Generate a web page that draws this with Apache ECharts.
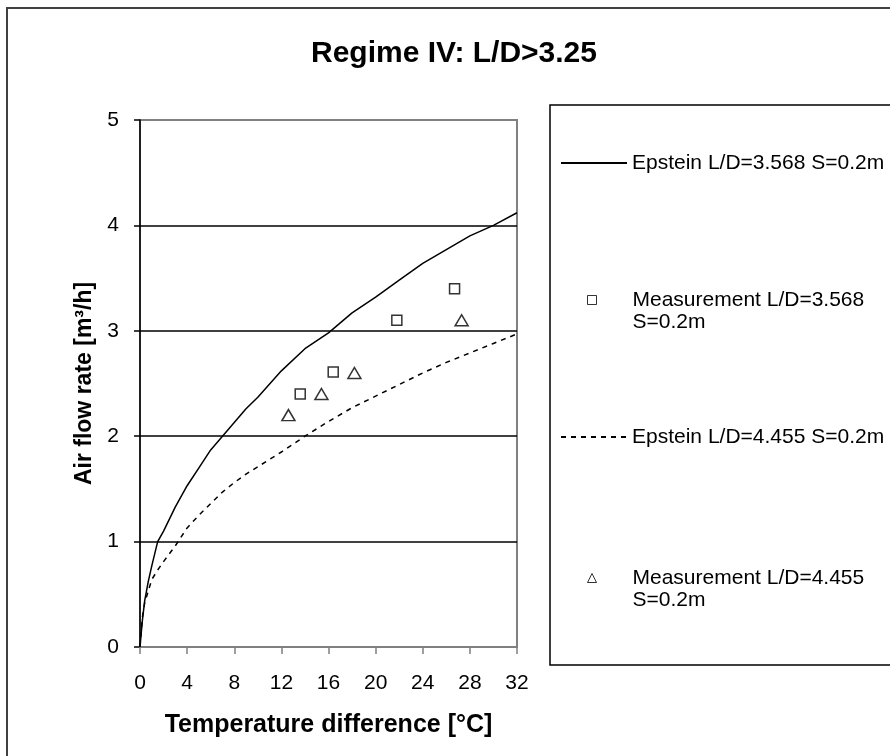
<!DOCTYPE html>
<html>
<head>
<meta charset="utf-8">
<script src="https://cdn.jsdelivr.net/npm/echarts@6/dist/echarts.min.js"></script>
<style>
  html, body { margin: 0; padding: 0; background: #fff; }
  #chart { width: 890px; height: 756px; }
</style>
</head>
<body>
<div id="chart"></div>
<script>
// temperature steps used for both Epstein curves
const tempSteps = [0, 0.2, 0.4, 0.7, 1, 1.5, 2, 3, 4, 5, 6, 7, 8, 9, 10, 12, 14, 16, 18, 20, 22, 24, 26, 28, 30, 32];
const epstein3568 = [0, 0.25, 0.44, 0.62, 0.77, 1.0, 1.1, 1.33, 1.53, 1.7, 1.87, 2.0, 2.13, 2.26, 2.37, 2.62, 2.83, 2.98, 3.17, 3.32, 3.48, 3.64, 3.77, 3.9, 4.0, 4.12];
const epstein4455 = [0, 0.28, 0.42, 0.53, 0.64, 0.73, 0.81, 0.96, 1.13, 1.25, 1.36, 1.47, 1.56, 1.64, 1.71, 1.85, 2.0, 2.14, 2.27, 2.38, 2.49, 2.6, 2.7, 2.79, 2.88, 2.97];

const meas3568Temp = [13.6, 16.4, 21.8, 26.7];
const meas3568Flow = [2.4, 2.61, 3.1, 3.4];
const meas4455Temp = [12.6, 15.4, 18.2, 27.3];
const meas4455Flow = [2.2, 2.4, 2.6, 3.1];

const seriesNames = [
  'Epstein L/D=3.568 S=0.2m',
  'Measurement L/D=3.568\nS=0.2m',
  'Epstein L/D=4.455 S=0.2m',
  'Measurement L/D=4.455\nS=0.2m'
];

const pairs = (xs, ys) => xs.map((x, i) => [x, ys[i]]);

const chart = echarts.init(document.getElementById('chart'));
const font = 'Liberation Sans, Arial, sans-serif';

const legendText = { fontFamily: font, fontSize: 21, color: '#000', lineHeight: 22 };

// line entries: only the line, hide the dot echarts puts in the middle
const lineLegend = {
  left: 560,
  orient: 'vertical',
  padding: 0,
  itemWidth: 66,
  itemHeight: 8,
  selectedMode: false,
  textStyle: legendText,
  itemStyle: { color: 'rgba(0,0,0,0)', borderWidth: 0 }
};

// marker entries: small square icon, text pushed to the same column
const markLegend = {
  left: 587,
  orient: 'vertical',
  padding: 0,
  itemWidth: 9,
  itemHeight: 9,
  selectedMode: false,
  textStyle: Object.assign({ padding: [0, 0, 0, 31] }, legendText),
  itemStyle: { borderWidth: 1 },
  formatter: n => ' \n' + n
};

const option = {
  animation: false,
  backgroundColor: '#fff',
  title: {
    text: 'Regime IV: L/D>3.25',
    left: 306,
    top: 34,
    textStyle: { fontFamily: font, fontSize: 30, fontWeight: 'bold', color: '#000' }
  },
  graphic: [
    {
      type: 'rect',
      shape: { x: 7, y: 8, width: 900, height: 800 },
      style: { fill: 'none', stroke: '#404040', lineWidth: 2 },
      z: -1
    },
    {
      type: 'rect',
      shape: { x: 550, y: 105, width: 400, height: 560 },
      style: { fill: 'none', stroke: '#000', lineWidth: 1.5 },
      z: -1
    }
  ],
  legend: [
    Object.assign({}, lineLegend, { top: 152, data: [seriesNames[0]] }),
    Object.assign({}, markLegend, { top: 267, data: [seriesNames[1]] }),
    Object.assign({}, lineLegend, { top: 426, data: [seriesNames[2]] }),
    Object.assign({}, markLegend, { top: 545, data: [seriesNames[3]] })
  ],
  grid: {
    left: 140,
    right: 373,
    top: 120,
    bottom: 109,
    show: true,
    borderColor: '#808080',
    borderWidth: 2
  },
  xAxis: {
    type: 'value',
    min: 0,
    max: 32,
    interval: 4,
    name: 'Temperature difference [°C]',
    nameLocation: 'middle',
    nameGap: 66,
    nameTextStyle: { fontFamily: font, fontSize: 25, fontWeight: 'bold', color: '#000' },
    axisLine: { show: true, lineStyle: { color: '#808080', width: 2 } },
    axisTick: { show: true, length: 7, lineStyle: { color: '#808080', width: 1.5 } },
    axisLabel: { fontFamily: font, fontSize: 21, color: '#000', margin: 26 },
    splitLine: { show: false }
  },
  yAxis: {
    type: 'value',
    min: 0,
    max: 5,
    interval: 1,
    name: 'Air flow rate [m³/h]',
    nameLocation: 'middle',
    nameGap: 44,
    nameTextStyle: { fontFamily: font, fontSize: 23, fontWeight: 'bold', color: '#000' },
    axisLine: { show: true, lineStyle: { color: '#000', width: 1.5 } },
    axisTick: { show: true, length: 6, lineStyle: { color: '#000', width: 1.5 } },
    axisLabel: { fontFamily: font, fontSize: 21, color: '#000', margin: 21 },
    splitLine: { show: true, showMinLine: false, showMaxLine: false, lineStyle: { color: '#000', width: 1.5 } }
  },
  series: [
    {
      name: seriesNames[0],
      type: 'line',
      data: pairs(tempSteps, epstein3568),
      symbol: 'none',
      lineStyle: { color: '#000', width: 1.5 },
      itemStyle: { color: '#000' },
      z: 3
    },
    {
      name: seriesNames[1],
      type: 'scatter',
      data: pairs(meas3568Temp, meas3568Flow),
      symbol: 'rect',
      symbolSize: [10, 10],
      itemStyle: { color: '#fff', borderColor: '#000', borderWidth: 1.5 },
      z: 4
    },
    {
      name: seriesNames[2],
      type: 'line',
      data: pairs(tempSteps, epstein4455),
      symbol: 'none',
      lineStyle: { color: '#000', width: 1.5, type: [5, 5] },
      itemStyle: { color: '#000' },
      z: 3
    },
    {
      name: seriesNames[3],
      type: 'scatter',
      data: pairs(meas4455Temp, meas4455Flow),
      symbol: 'triangle',
      symbolSize: [13, 11],
      itemStyle: { color: '#fff', borderColor: '#000', borderWidth: 1.5 },
      z: 4
    }
  ]
};

chart.setOption(option);
</script>
</body>
</html>
